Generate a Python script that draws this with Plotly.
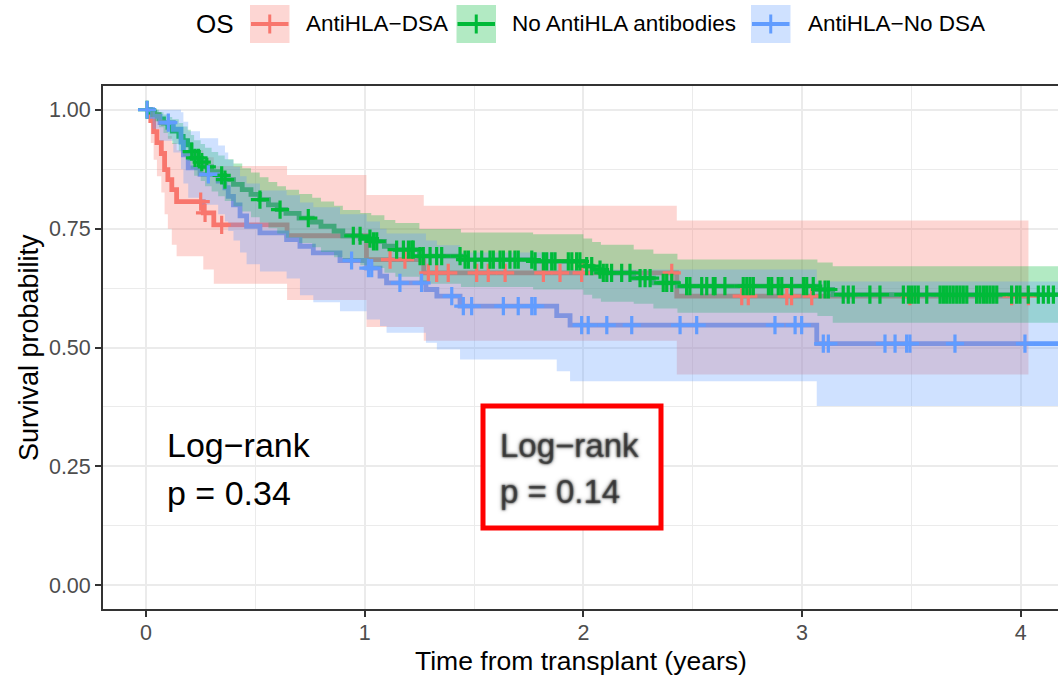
import numpy as np
import plotly.graph_objects as go

# ---------------- data ----------------
group_names = ["AntiHLA\u2212DSA", "No AntiHLA antibodies", "AntiHLA\u2212No DSA"]
group_colors = ["#F8766D", "#00BA38", "#619CFF"]
group_fills = ["rgba(248,118,109,0.3)", "rgba(0,186,56,0.3)", "rgba(97,156,255,0.3)"]
legend_title = "OS"

# AntiHLA-DSA
dsa_time = [0.022, 0.035, 0.05, 0.07, 0.085, 0.1, 0.118, 0.14, 0.262, 0.31, 0.645, 1.008, 1.27, 2.427]
dsa_surv = [0.977, 0.954, 0.931, 0.908, 0.874, 0.853, 0.832, 0.807, 0.783, 0.758, 0.735, 0.685, 0.657, 0.608]
dsa_upper = [1.0, 1.0, 0.995, 0.98, 0.96, 0.945, 0.93, 0.915, 0.90, 0.882, 0.863, 0.821, 0.798, 0.767]
dsa_lower = [0.93, 0.895, 0.86, 0.826, 0.78, 0.75, 0.716, 0.692, 0.664, 0.634, 0.60, 0.543, 0.514, 0.443]
dsa_censor = [0.25, 0.27, 0.346, 1.116, 1.184, 1.291, 1.329, 1.382, 1.512, 1.565, 1.642, 1.817,
              1.893, 1.992, 2.404, 2.724, 2.754, 2.93, 2.952, 3.044, 3.493, 3.958, 4.035]

# No AntiHLA antibodies
noab_time = [0.02, 0.04, 0.06, 0.08, 0.10, 0.12, 0.15, 0.17, 0.19, 0.205, 0.22, 0.25, 0.27, 0.30,
             0.33, 0.36, 0.40, 0.44, 0.48, 0.52, 0.56, 0.60, 0.64, 0.70, 0.76, 0.80, 0.86, 0.90,
             0.98, 1.03, 1.09, 1.14, 1.25, 1.44, 1.77, 2.00, 2.04, 2.08, 2.23, 2.32, 2.43, 3.07, 3.14]
noab_surv = [0.995, 0.99, 0.981, 0.972, 0.963, 0.955, 0.944, 0.935, 0.926, 0.912, 0.899, 0.89, 0.88,
             0.87, 0.862, 0.853, 0.843, 0.832, 0.822, 0.811, 0.80, 0.79, 0.782, 0.772, 0.764, 0.755,
             0.745, 0.735, 0.729, 0.723, 0.713, 0.706, 0.692, 0.685, 0.681, 0.671, 0.664, 0.657,
             0.646, 0.636, 0.629, 0.622, 0.611]
noab_upper = [1.0, 1.0, 0.995, 0.99, 0.985, 0.98, 0.972, 0.965, 0.958, 0.947, 0.936, 0.928, 0.92,
              0.911, 0.904, 0.896, 0.887, 0.877, 0.868, 0.858, 0.848, 0.839, 0.832, 0.823, 0.815,
              0.807, 0.798, 0.789, 0.783, 0.778, 0.768, 0.762, 0.749, 0.742, 0.738, 0.729, 0.722,
              0.716, 0.706, 0.697, 0.685, 0.679, 0.671]
noab_lower = [0.985, 0.976, 0.963, 0.951, 0.939, 0.928, 0.914, 0.903, 0.892, 0.876, 0.861, 0.85,
              0.839, 0.828, 0.818, 0.808, 0.797, 0.786, 0.774, 0.763, 0.751, 0.74, 0.731, 0.72,
              0.711, 0.701, 0.69, 0.68, 0.673, 0.667, 0.657, 0.649, 0.634, 0.627, 0.622, 0.611,
              0.603, 0.596, 0.592, 0.582, 0.573, 0.566, 0.552]
noab_censor = [0.005, 0.209, 0.224, 0.24, 0.255, 0.278, 0.346, 0.361, 0.521, 0.613, 0.742, 0.948,
               0.979, 1.024, 1.04, 1.055, 1.146, 1.177, 1.2, 1.215, 1.222, 1.253, 1.268, 1.299,
               1.329, 1.352, 1.436, 1.459, 1.474, 1.504, 1.535, 1.573, 1.588, 1.619, 1.634, 1.664,
               1.687, 1.702, 1.764, 1.779, 1.817, 1.832, 1.855, 1.870, 1.931, 1.947, 1.969, 1.984,
               2.015, 2.038, 2.076, 2.091, 2.107, 2.129, 2.175, 2.213, 2.259, 2.282, 2.305, 2.365,
               2.381, 2.404, 2.472, 2.487, 2.541, 2.564, 2.594, 2.602, 2.647, 2.731, 2.747, 2.762,
               2.777, 2.846, 2.861, 2.891, 2.907, 2.952, 3.006, 3.021, 3.051, 3.082, 3.105, 3.120,
               3.188, 3.211, 3.234, 3.310, 3.356, 3.463, 3.486, 3.501, 3.516, 3.531, 3.570, 3.631,
               3.646, 3.661, 3.676, 3.691, 3.707, 3.722, 3.737, 3.753, 3.798, 3.813, 3.829, 3.844,
               3.859, 3.874, 3.890, 3.958, 3.981, 3.996, 4.034, 4.080, 4.103, 4.126, 4.149, 4.30]

# AntiHLA-No DSA
nodsa_time = [0.03, 0.064, 0.125, 0.16, 0.171, 0.193, 0.247, 0.33, 0.361, 0.376, 0.40, 0.43, 0.46,
              0.521, 0.643, 0.704, 0.765, 0.887, 1.009, 1.07, 1.10, 1.28, 1.33, 1.436, 1.878,
              1.939, 3.067]
nodsa_surv = [0.986, 0.973, 0.959, 0.932, 0.905, 0.878, 0.864, 0.85, 0.836, 0.818, 0.80, 0.777,
              0.755, 0.741, 0.727, 0.713, 0.699, 0.683, 0.667, 0.65, 0.636, 0.622, 0.608, 0.587,
              0.567, 0.547, 0.508]
nodsa_upper = [1.0, 1.0, 1.0, 0.995, 0.975, 0.955, 0.94, 0.925, 0.91, 0.895, 0.88, 0.86, 0.845,
               0.83, 0.82, 0.805, 0.795, 0.78, 0.765, 0.75, 0.74, 0.725, 0.715, 0.70, 0.68, 0.664,
               0.639]
nodsa_lower = [0.96, 0.935, 0.91, 0.875, 0.845, 0.815, 0.80, 0.78, 0.765, 0.745, 0.725, 0.70, 0.675,
               0.66, 0.645, 0.61, 0.595, 0.576, 0.559, 0.545, 0.531, 0.51, 0.496, 0.475, 0.45,
               0.429, 0.377]
nodsa_censor = [0.005, 0.102, 0.285, 0.94, 1.017, 1.032, 1.161, 1.26, 1.398, 1.451, 1.489, 1.634,
                1.702, 1.764, 1.779, 1.992, 2.022, 2.107, 2.221, 2.442, 2.518, 2.876, 2.968,
                2.998, 3.097, 3.12, 3.379, 3.425, 3.478, 3.493, 3.699, 4.019, 4.30]

x_ticks = [0, 1, 2, 3, 4]
x_ticklabels = ["0", "1", "2", "3", "4"]
y_ticks = [0.0, 0.25, 0.5, 0.75, 1.0]
y_ticklabels = ["0.00", "0.25", "0.50", "0.75", "1.00"]

x_title = "Time from transplant (years)"
y_title = "Survival probability"
test_main = ["Log\u2212rank", "p = 0.34"]
test_hidden = ["Log\u2212rank", "p = 0.14"]

series = [
    (dsa_time, dsa_surv, dsa_upper, dsa_lower, dsa_censor),
    (noab_time, noab_surv, noab_upper, noab_lower, noab_censor),
    (nodsa_time, nodsa_surv, nodsa_upper, nodsa_lower, nodsa_censor),
]

# ---------------- geometry helpers (pixels -> paper) ----------------
W, H = 1058, 676
PL, PR, PT, PB = 103, 1058, 86, 609
X_RANGE = [(PL - 146) / 218.7, (PR - 146) / 218.7]
Y_RANGE = [-0.05, 1.05]


def px_x(px):
    return (px - PL) / (PR - PL)


def px_y(py):
    return (PB - py) / (PB - PT)


FONT = "Liberation Sans, Arial, Helvetica, sans-serif"

fig = go.Figure()


def step_xy(times, vals, tmax):
    return [0.0] + list(times) + [tmax], [1.0] + list(vals) + [vals[-1]]


# 1) survival step lines
for (t, s, up, lo, cen), col in zip(series, group_colors):
    tmax = max(max(cen), max(t))
    x, y = step_xy(t, s, tmax)
    fig.add_trace(go.Scatter(x=x, y=y, mode="lines", line=dict(color=col, width=4.8, shape="hv"),
                             hoverinfo="skip", showlegend=False))

# 2) confidence ribbons (drawn over the lines, like survminer)
for (t, s, up, lo, cen), fc in zip(series, group_fills):
    tmax = max(max(cen), max(t))
    xl, yl = step_xy(t, lo, tmax)
    xu, yu = step_xy(t, up, tmax)
    fig.add_trace(go.Scatter(x=xl, y=yl, mode="lines", line=dict(width=0, shape="hv"),
                             hoverinfo="skip", showlegend=False))
    fig.add_trace(go.Scatter(x=xu, y=yu, mode="lines", line=dict(width=0, shape="hv"),
                             fill="tonexty", fillcolor=fc, hoverinfo="skip", showlegend=False))

# 3) censor marks
for (t, s, up, lo, cen), col in zip(series, group_colors):
    tt = np.array([0.0] + list(t))
    ss = np.array([1.0] + list(s))
    idx = np.searchsorted(tt, np.array(cen), side="right") - 1
    fig.add_trace(go.Scatter(x=cen, y=ss[idx], mode="markers",
                             marker=dict(symbol="cross-thin", size=13,
                                         line=dict(width=3.2, color=col)),
                             hoverinfo="skip", showlegend=False))

grid = "#EBEBEB"
axcol = "#333333"
minor_x = [(a + b) / 2 for a, b in zip(x_ticks[:-1], x_ticks[1:])] + [x_ticks[-1] + 0.5]
minor_y = [(a + b) / 2 for a, b in zip(y_ticks[:-1], y_ticks[1:])]

fig.update_xaxes(range=X_RANGE, tickmode="array", tickvals=x_ticks, ticktext=x_ticklabels,
                 showgrid=True, gridcolor=grid, gridwidth=1.8, zeroline=False,
                 showline=True, linecolor=axcol, linewidth=1.8, mirror=True,
                 ticks="outside", ticklen=6, tickwidth=1.8, tickcolor=axcol,
                 ticklabelstandoff=-3,
                 tickfont=dict(family=FONT, size=21.5, color="#4D4D4D"),
                 minor=dict(tickmode="array", tickvals=minor_x, showgrid=True,
                            gridcolor=grid, gridwidth=0.9, ticks=""))
fig.update_yaxes(range=Y_RANGE, tickmode="array", tickvals=y_ticks, ticktext=y_ticklabels,
                 showgrid=True, gridcolor=grid, gridwidth=1.8, zeroline=False,
                 showline=True, linecolor=axcol, linewidth=1.8, mirror=False,
                 ticks="outside", ticklen=6, tickwidth=1.8, tickcolor=axcol,
                 tickfont=dict(family=FONT, size=21.5, color="#4D4D4D"),
                 minor=dict(tickmode="array", tickvals=minor_y, showgrid=True,
                            gridcolor=grid, gridwidth=0.9, ticks=""))

annotations = []
shapes = []

# axis titles
annotations.append(dict(text=x_title, x=px_x(581), y=px_y(661), xref="paper", yref="paper",
                        showarrow=False, xanchor="center", yanchor="middle",
                        font=dict(family=FONT, size=26.5, color="black")))
annotations.append(dict(text=y_title, x=px_x(29), y=px_y(348), xref="paper", yref="paper",
                        showarrow=False, xanchor="center", yanchor="middle", textangle=-90,
                        font=dict(family=FONT, size=27, color="black")))

# log-rank text
for line, py in zip(test_main, [445, 493]):
    annotations.append(dict(text=line, x=px_x(165), y=px_y(py), xref="paper", yref="paper",
                            showarrow=False, xanchor="left", yanchor="middle",
                            font=dict(family=FONT, size=34, color="black")))

# blurred box
shapes.append(dict(type="rect", xref="paper", yref="paper", x0=px_x(483), x1=px_x(661),
                   y0=px_y(528), y1=px_y(406), line=dict(color="#FF0000", width=5),
                   fillcolor="white", layer="above"))
for line, py in zip(test_hidden, [445, 491]):
    annotations.append(dict(text=line, x=px_x(498), y=px_y(py), xref="paper", yref="paper",
                            showarrow=False, xanchor="left", yanchor="middle",
                            font=dict(family=FONT, size=33, color="rgba(40,40,40,0.5)",
                                      shadow="0px 0px 2px rgba(20,20,20,1), 0px 0px 2px rgba(20,20,20,1), 0px 0px 4px rgba(40,40,40,1)")))

# manual legend (ggplot style)
annotations.append(dict(text=legend_title, x=px_x(194), y=px_y(24), xref="paper", yref="paper",
                        showarrow=False, xanchor="left", yanchor="middle",
                        font=dict(family=FONT, size=26, color="black")))
key_left = [250, 456.5, 751]
label_left = [304, 510, 806]
for name, col, fc, kx, lx in zip(group_names, group_colors, group_fills, key_left, label_left):
    shapes.append(dict(type="rect", xref="paper", yref="paper", x0=px_x(kx), x1=px_x(kx + 39.5),
                       y0=px_y(43), y1=px_y(5), line=dict(width=0), fillcolor=fc, layer="above"))
    shapes.append(dict(type="line", xref="paper", yref="paper", x0=px_x(kx + 1), x1=px_x(kx + 38.5),
                       y0=px_y(24), y1=px_y(24), line=dict(color=col, width=4), layer="above"))
    shapes.append(dict(type="line", xref="paper", yref="paper", x0=px_x(kx + 19.75),
                       x1=px_x(kx + 19.75), y0=px_y(14.5), y1=px_y(33.5),
                       line=dict(color=col, width=3), layer="above"))
    annotations.append(dict(text=name, x=px_x(lx), y=px_y(24), xref="paper", yref="paper",
                            showarrow=False, xanchor="left", yanchor="middle",
                            font=dict(family=FONT, size=22.5, color="black")))

fig.update_layout(width=W, height=H, margin=dict(l=PL, r=W - PR, t=PT, b=H - PB),
                  plot_bgcolor="white", paper_bgcolor="white", showlegend=False,
                  font=dict(family=FONT), annotations=annotations, shapes=shapes)

fig.write_html("out.html")
